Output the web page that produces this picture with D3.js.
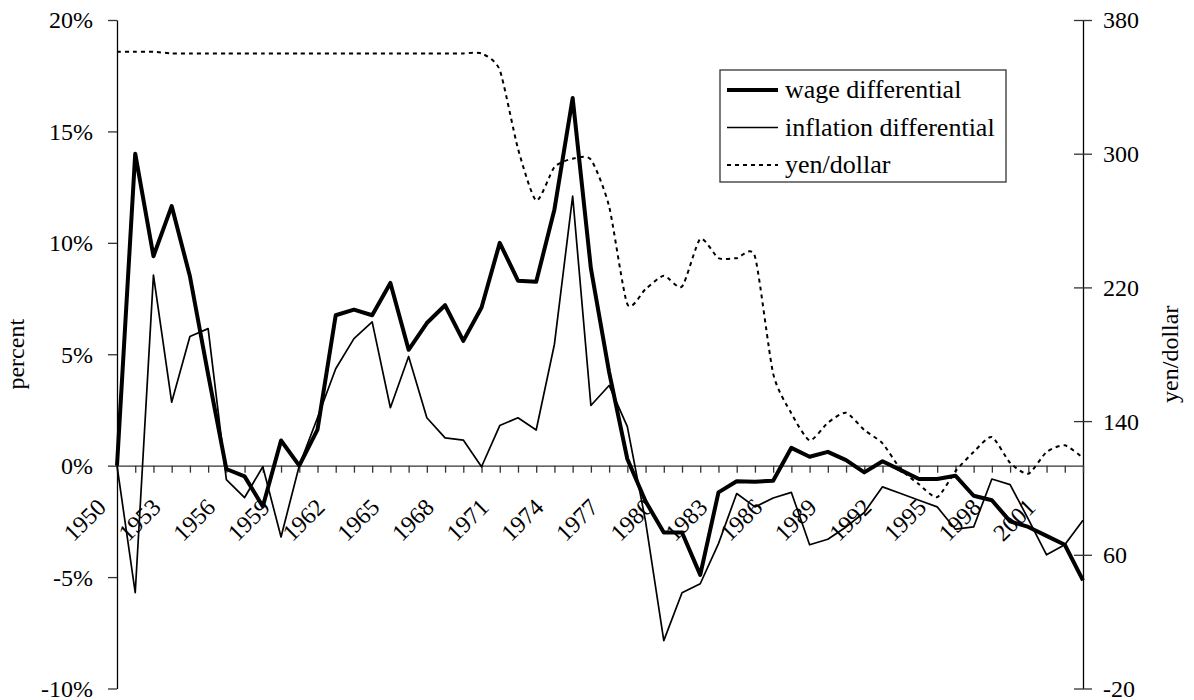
<!DOCTYPE html>
<html lang="en">
<head>
<meta charset="UTF-8">
<title>Wage differential, inflation differential and yen/dollar</title>
<script src="https://d3js.org/d3.v7.min.js"></script>
<style>
  body { margin: 0; background: #fff; }
  svg text { font-family: "Liberation Serif", "Times New Roman", serif; font-size: 24px; fill: #000; }
</style>
</head>
<body>
<div id="chart"></div>
<script>
// years 1950..2003
const years = d3.range(1950, 2004);

// wage differential (percent)
const wage = [0, 14.0, 9.4, 11.65, 8.5, 4.1, -0.15, -0.48, -1.83, 1.13,
  0, 1.62, 6.75, 7.0, 6.75, 8.2, 5.2, 6.4, 7.2, 5.6,
  7.1, 10.0, 8.3, 8.25, 11.5, 16.5, 8.85, 4.2, 0.3, -1.6,
  -3.0, -3.0, -4.9, -1.2, -0.7, -0.72, -0.68, 0.8, 0.4, 0.62,
  0.25, -0.3, 0.2, -0.2, -0.6, -0.6, -0.45, -1.35, -1.55, -2.5,
  -2.75, -3.15, -3.55, -5.15];

// inflation differential (percent)
const inflation = [0, -5.7, 8.55, 2.85, 5.8, 6.15, -0.63, -1.43, -0.05, -3.2,
  0, 2.15, 4.35, 5.7, 6.45, 2.6, 4.9, 2.15, 1.25, 1.15,
  -0.05, 1.8, 2.15, 1.6, 5.45, 12.1, 2.7, 3.6, 1.75, -2.5,
  -7.85, -5.7, -5.3, -3.5, -1.25, -1.85, -1.45, -1.2, -3.55, -3.3,
  -2.75, -2.1, -0.95, -1.25, -1.55, -1.85, -2.85, -2.75, -0.6, -0.85,
  -2.4, -4.0, -3.55, -2.45];

// yen per dollar
const yen = [361, 361, 361, 360, 360, 360, 360, 360, 360, 360,
  360, 360, 360, 360, 360, 360, 360, 360, 360, 360,
  360, 350, 303, 272, 292, 297, 296.5, 268.5, 210, 219,
  227, 220.5, 249, 237.5, 237.5, 238.5, 168.5, 144.6, 128.5, 139,
  145, 134.7, 126.7, 111.2, 102.2, 94.5, 110, 121.5, 130.5, 115,
  108.5, 121.5, 125.5, 118];

const leftTicks = [-10, -5, 0, 5, 10, 15, 20];
const rightTicks = [-20, 60, 140, 220, 300, 380];
const seriesNames = ["wage differential", "inflation differential", "yen/dollar"];

const w = 1194, h = 700;
const padL = 117, padR = 1083, padT = 20, padB = 688.5;

const svg = d3.select("#chart").append("svg")
  .attr("width", w)
  .attr("height", h);

const x = d3.scalePoint().domain(years).range([padL, padR]);
const yL = d3.scaleLinear().domain([-10, 20]).range([padB, padT]);
const yR = d3.scaleLinear().domain([-20, 380]).range([padB, padT]);

// left axis
const gL = svg.append("g")
  .attr("transform", "translate(" + padL + ",0)")
  .call(d3.axisLeft(yL).tickValues(leftTicks).tickSize(9).tickSizeOuter(0).tickPadding(15)
    .tickFormat(d => d + "%"));
gL.select(".domain").attr("stroke", "#000").attr("stroke-width", 1.3);
gL.selectAll(".tick line").attr("stroke", "#333").attr("stroke-width", 1.3);
gL.selectAll("text").attr("dy", "0.33em");

// right axis, ticks cross the line
const gR = svg.append("g")
  .attr("transform", "translate(" + padR + ",0)")
  .call(d3.axisRight(yR).tickValues(rightTicks).tickSize(9).tickSizeOuter(0).tickPadding(11)
    .tickFormat(d => String(d)));
gR.select(".domain").attr("stroke", "#000").attr("stroke-width", 1.3);
gR.selectAll(".tick line").attr("x1", -9).attr("x2", 9).attr("stroke", "#333").attr("stroke-width", 1.3);
gR.selectAll("text").attr("dy", "0.33em");

// x axis on the zero line
const y0 = yL(0);
const gX = svg.append("g")
  .attr("transform", "translate(0," + y0 + ")")
  .call(d3.axisBottom(x).tickSize(7).tickSizeOuter(0)
    .tickFormat((d, i) => i % 3 === 0 ? d : ""));
gX.select(".domain").attr("stroke", "#333").attr("stroke-width", 1.3);
gX.selectAll(".tick line").attr("stroke", "#333").attr("stroke-width", 1.3);
gX.selectAll("text")
  .attr("x", 0).attr("y", 0).attr("dy", 0)
  .attr("text-anchor", "end")
  .attr("transform", "translate(-10,43) rotate(-45)");

svg.selectAll(".tick text").style("font-size", "24px").style("font-family", "'Liberation Serif', serif").attr("fill", "#000");

// axis titles
svg.append("text")
  .attr("transform", "translate(24," + ((padT + padB) / 2) + ") rotate(-90)")
  .attr("text-anchor", "middle")
  .text("percent");
svg.append("text")
  .attr("transform", "translate(1178," + ((padT + padB) / 2) + ") rotate(-90)")
  .attr("text-anchor", "middle")
  .text("yen/dollar");

// lines
const lineL = d3.line().x((d, i) => x(years[i])).y(d => yL(d));
const lineR = d3.line().x((d, i) => x(years[i])).y(d => yR(d)).curve(d3.curveCardinal.tension(0.35));

svg.append("path").datum(inflation)
  .attr("d", lineL).attr("fill", "none").attr("stroke", "#000")
  .attr("stroke-width", 1.7).attr("stroke-linejoin", "round");

svg.append("path").datum(wage)
  .attr("d", lineL).attr("fill", "none").attr("stroke", "#000")
  .attr("stroke-width", 4).attr("stroke-linejoin", "round");

svg.append("path").datum(yen)
  .attr("d", lineR).attr("fill", "none").attr("stroke", "#000")
  .attr("stroke-width", 2).attr("stroke-dasharray", "4,4");

// legend
const lg = svg.append("g");
lg.append("rect")
  .attr("x", 720).attr("y", 70).attr("width", 286).attr("height", 112)
  .attr("fill", "#fff").attr("stroke", "#333").attr("stroke-width", 1.3);
const styles = [
  { width: 4, dash: null },
  { width: 1.7, dash: null },
  { width: 2, dash: "4,4" }
];
seriesNames.forEach((name, i) => {
  const yy = 90 + i * 37.5;
  lg.append("line")
    .attr("x1", 727).attr("x2", 778).attr("y1", yy).attr("y2", yy)
    .attr("stroke", "#000").attr("stroke-width", styles[i].width)
    .attr("stroke-dasharray", styles[i].dash);
  lg.append("text")
    .attr("x", 785).attr("y", yy + 8)
    .style("font-size", "26px")
    .text(name);
});
</script>
</body>
</html>
